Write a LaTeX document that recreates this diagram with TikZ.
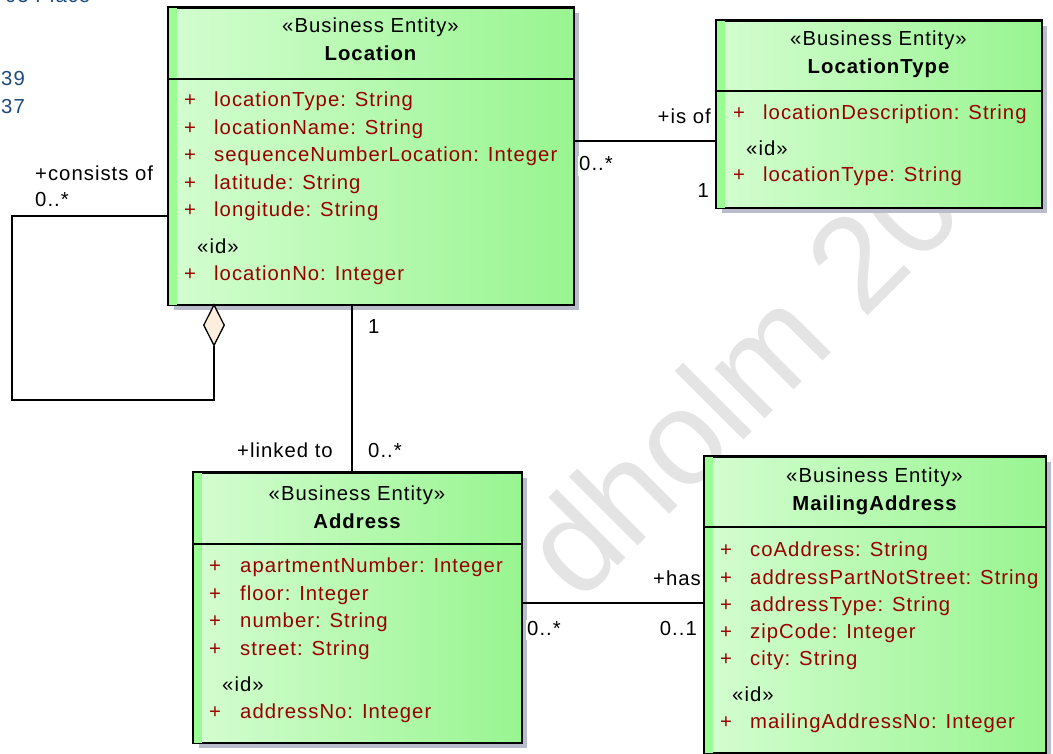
\documentclass[tikz,border=0pt]{standalone}
\usepackage{fontspec}
\setmainfont{Liberation Sans}[LetterSpace=5]
\newfontfamily\wmfont{Liberation Sans}
\usetikzlibrary{shadows,shapes.geometric}
\definecolor{attr}{HTML}{990000}
\definecolor{gL}{HTML}{D4FDD0}
\definecolor{gR}{HTML}{98F590}
\definecolor{stripe}{HTML}{9CFC94}
\definecolor{shad}{HTML}{B9BDCB}
\definecolor{wm}{HTML}{E4E4E4}
\definecolor{dia}{HTML}{FBEEDC}
\definecolor{oldblue}{HTML}{1F4A7C}
\tikzset{
  entity/.style={draw=black, line width=1.6pt, left color=gL, right color=gR,
    drop shadow={shadow xshift=5pt, shadow yshift=-5pt, fill=shad, opacity=1},
    anchor=north west, inner sep=0pt},
  txt/.style={font=\fontsize{20.3}{24}\selectfont, inner sep=0pt, text height=14pt, text depth=4pt, yshift=-3pt},
  attrtxt/.style={txt, text=attr, anchor=west},
  blacktxt/.style={txt, text=black},
  titletxt/.style={txt, font=\fontsize{20.3}{24}\selectfont\bfseries},
  lbl/.style={txt, fill=white, inner sep=1pt},
  conn/.style={draw=black, line width=1.3pt},
  aggdia/.style={diamond, draw=black, line width=1.3pt, fill=dia, inner sep=0pt,
    minimum width=21pt, minimum height=41pt, shape aspect=0.5, anchor=north},
  oldtxt/.style={txt, text=oldblue, anchor=west}
}
\newcommand{\entitybox}[6]{%
  \node[entity, minimum width=#4pt, minimum height=#5pt] (#1) at (#2,-#3) {};
  \fill[stripe] ([xshift=0.8pt,yshift=-0.8pt]#1.north west) rectangle ([xshift=9pt,yshift=0.8pt]#1.south west);
  \draw[line width=1.6pt] ([yshift=-#6pt]#1.north west) -- ([yshift=-#6pt]#1.north east);
  \draw[line width=1.6pt] (#1.north west) rectangle (#1.south east);}
\newcommand{\attr}[5]{%
  \node[attrtxt] (#1p) at (#2,-#4) {+};
  \node[attrtxt] (#1) at (#3,-#4) {#5};}
\newcommand{\idtag}[3]{\node[blacktxt, anchor=west] (#1) at (#2,-#3) {«id»};}
\newcommand{\header}[4]{%
  \node[blacktxt] (#1s) at (#2,-#3) {«Business Entity»};
  \node[titletxt] (#1t) at (#2,-#3-28) {#4};}
\begin{document}
\begin{tikzpicture}[x=1pt,y=1pt]
\useasboundingbox[fill=white] (0,0) rectangle (1053,-754);
% watermark
\node[rotate=45, anchor=base west, text=wm, inner sep=0pt, font=\wmfont\fontsize{134}{134}\selectfont] (wmark) at (579,-605) {dholm 20};
% remnants of another diagram
\node[oldtxt, anchor=base west, yshift=3pt] (old1) at (5,-3) {05 Place};
\node[oldtxt] (old2) at (1,-78) {39};
\node[oldtxt] (old3) at (1,-106) {37};

% boxes
\entitybox{loc}{168}{7}{405}{297}{72}
\header{loc}{370.5}{25}{Location}
\attr{a1}{184}{214}{99}{locationType: String}
\attr{a2}{184}{214}{127}{locationName: String}
\attr{a3}{184}{214}{154}{sequenceNumberLocation: Integer}
\attr{a4}{184}{214}{182}{latitude: String}
\attr{a5}{184}{214}{209}{longitude: String}
\idtag{id1}{197}{246}
\attr{a6}{184}{214}{272}{locationNo: Integer}

\entitybox{lt}{716}{20}{325}{187}{71}
\header{lt}{878.5}{38}{LocationType}
\attr{b1}{733}{763}{112}{locationDescription: String}
\idtag{id2}{746}{148}
\attr{b2}{733}{763}{174}{locationType: String}

\entitybox{addr}{193}{472}{328}{270}{72}
\header{addr}{357}{492}{Address}
\attr{c1}{209}{240}{564}{apartmentNumber: Integer}
\attr{c2}{209}{240}{592}{floor: Integer}
\attr{c3}{209}{240}{619}{number: String}
\attr{c4}{209}{240}{647}{street: String}
\idtag{id3}{222}{683}
\attr{c5}{209}{240}{710}{addressNo: Integer}

\entitybox{mail}{704}{456}{341}{296}{71}
\header{mail}{874.5}{474}{MailingAddress}
\attr{d1}{720}{750}{548}{coAddress: String}
\attr{d2}{720}{750}{576}{addressPartNotStreet: String}
\attr{d3}{720}{750}{603}{addressType: String}
\attr{d4}{720}{750}{630}{zipCode: Integer}
\attr{d5}{720}{750}{657}{city: String}
\idtag{id4}{732}{693}
\attr{d6}{720}{750}{720}{mailingAddressNo: Integer}

% connectors
\coordinate (yisof) at (0,-141);
\draw[conn] (loc.east |- yisof) -- (lt.west |- yisof);
\coordinate (xlink) at (352,0);
\draw[conn] (loc.south -| xlink) -- (addr.north -| xlink);
\coordinate (yhas) at (0,-603);
\draw[conn] (addr.east |- yhas) -- (mail.west |- yhas);
% self aggregation
\node[aggdia] (agg) at (214,-304) {};
\coordinate (s1) at (12,-216);
\coordinate (s2) at (12,-400);
\coordinate (s3) at (214,-400);
\draw[conn] (loc.west |- s1) -- (s1) -- (s2) -- (s3) -- (agg.south);

% labels
\node[lbl, anchor=east] (l1) at (712,-116) {+is of};
\node[lbl, anchor=west] (l2) at (578,-163) {0..*};
\node[lbl, anchor=east] (l3) at (710,-190) {1};
\node[lbl, anchor=west] (l4) at (367,-326) {1};
\node[lbl, anchor=east] (l5) at (334,-449) {+linked to};
\node[lbl, anchor=west] (l6) at (367,-449) {0..*};
\node[lbl, anchor=east] (l7) at (702,-577) {+has};
\node[lbl, anchor=west] (l8) at (526,-627) {0..*};
\node[lbl, anchor=east] (l9) at (698,-627) {0..1};
\node[lbl, anchor=west] (l10) at (34,-173) {+consists of};
\node[lbl, anchor=west] (l11) at (34,-199) {0..*};
\end{tikzpicture}
\end{document}
